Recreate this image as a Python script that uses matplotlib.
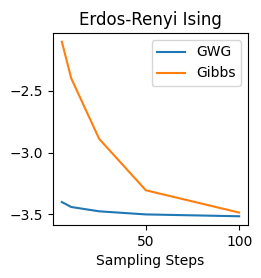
import matplotlib
matplotlib.use('Agg')
import matplotlib.pyplot as plt

steps = [5, 10, 25, 50, 100]
gwg = [-3.40, -3.44, -3.475, -3.50, -3.515]
gibbs = [-2.105, -2.40, -2.89, -3.305, -3.485]

fig = plt.figure(figsize=(2.61, 2.78), dpi=100)
ax = fig.add_axes([53 / 261, 1 - 225 / 278, 195 / 261, 192 / 278])
ax.plot(steps, gwg, label='GWG')
ax.plot(steps, gibbs, label='Gibbs')
ax.set_xticks([50, 100])
ax.set_yticks([-2.5, -3.0, -3.5])
ax.set_xlabel('Sampling Steps')
ax.set_title('Erdos-Renyi Ising')
ax.legend()

fig.savefig('out.png', dpi=100)
